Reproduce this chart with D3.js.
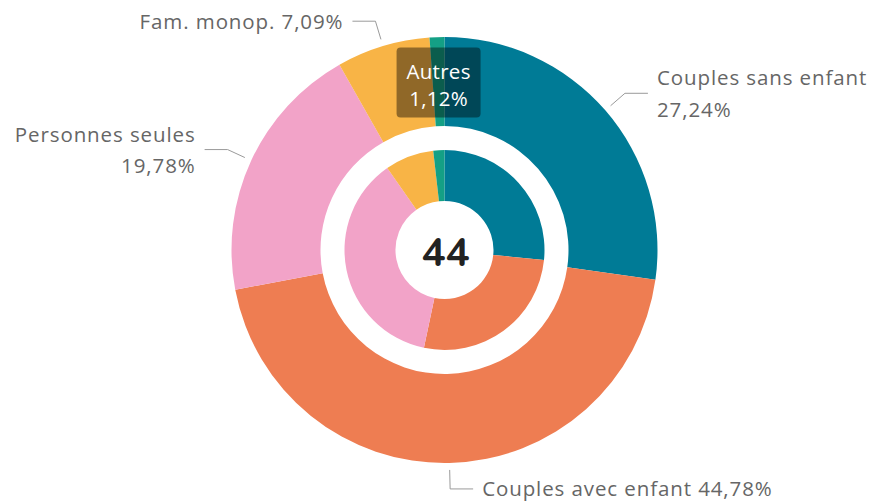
<!DOCTYPE html>
<html>
<head>
<meta charset="utf-8">
<script src="https://cdn.jsdelivr.net/npm/d3@7/dist/d3.min.js"></script>
<style>
  html, body { margin: 0; padding: 0; background: #fff; }
  svg { display: block; }
  text { font-family: "Open Sans", "Lato", sans-serif; }
  text.center { font-family: "Nunito", "Lato", sans-serif; }
</style>
</head>
<body>
<svg id="chart" width="874" height="503"></svg>
<script>
// Data
const categories = ["Couples sans enfant", "Couples avec enfant", "Personnes seules", "Fam. monop.", "Autres"];
const outerValues = [27.24, 44.78, 19.78, 7.09, 1.12];   // outer ring
const innerValues = [26.6, 26.7, 37.0, 7.9, 1.8];        // inner ring (département 44, estimated)
const outerLabels = ["27,24%", "44,78%", "19,78%", "7,09%", "1,12%"];
const centerLabel = "44";
const colors = ["#007b96", "#ee7d52", "#f2a3c8", "#f8b446", "#14a085"];

const svg = d3.select("#chart");
const cx = 444.5, cy = 250;
const R = 213, Rin = 124, r2 = 100, r2in = 49;

const g = svg.append("g").attr("transform", `translate(${cx},${cy})`);
const pie = d3.pie().sort(null).value(d => d);
const outerArcs = pie(outerValues);
const innerArcs = pie(innerValues);

const arcOuter = d3.arc().innerRadius(Rin).outerRadius(R);
const arcInner = d3.arc().innerRadius(r2in).outerRadius(r2);

g.selectAll("path.outer").data(outerArcs).enter().append("path")
  .attr("class", "outer").attr("d", arcOuter).attr("fill", (d, i) => colors[i]);
g.selectAll("path.inner").data(innerArcs).enter().append("path")
  .attr("class", "inner").attr("d", arcInner).attr("fill", (d, i) => colors[i]);

// center label
g.append("text").attr("class", "center").attr("x", 1).attr("y", 16).attr("text-anchor", "middle")
  .attr("font-size", 40).attr("font-weight", 700).attr("fill", "#222").text(centerLabel);

// external labels with connectors
const labelCfg = [
  { i: 0, lines: ["Couples sans enfant", "27,24%"] },
  { i: 1, lines: ["Couples avec enfant 44,78%"] },
  { i: 2, lines: ["Personnes seules", "19,78%"] },
  { i: 3, lines: ["Fam. monop. 7,09%"] }
];
const fs = 20.5;
const ls = "0.9px";
labelCfg.forEach(cfg => {
  const a = outerArcs[cfg.i];
  const mid = (a.startAngle + a.endAngle) / 2;
  const s = Math.sin(mid), c = -Math.cos(mid);
  const p0 = [s * (R + 7), c * (R + 7)];
  const p1 = [s * (R + 26), c * (R + 26)];
  const right = s >= 0;
  const p2 = [p1[0] + (right ? 23 : -23), p1[1]];
  g.append("path")
    .attr("d", `M${p0[0]},${p0[1]}L${p1[0]},${p1[1]}L${p2[0]},${p2[1]}`)
    .attr("fill", "none").attr("stroke", "#9a9a9a").attr("stroke-width", 1);
  const tx = p2[0] + (right ? 9 : -9);
  const t = g.append("text")
    .attr("text-anchor", right ? "start" : "end")
    .attr("font-size", fs).attr("fill", "#666").style("letter-spacing", ls);
  if (cfg.lines.length === 2) {
    t.append("tspan").attr("x", tx).attr("y", p1[1] - 8).text(cfg.lines[0]);
    t.append("tspan").attr("x", tx).attr("y", p1[1] + 23.5).text(cfg.lines[1]);
  } else {
    t.append("tspan").attr("x", tx).attr("y", p1[1] + 7.5).text(cfg.lines[0]);
  }
});

// "Autres" inside label with dark box
{
  const a = outerArcs[4];
  const [x, y] = arcOuter.centroid(a);
  g.append("rect").attr("x", x - 42).attr("y", y - 34).attr("width", 84).attr("height", 70)
    .attr("rx", 4).attr("fill", "rgba(0,0,0,0.42)");
  const t = g.append("text").attr("text-anchor", "middle").attr("font-size", fs).attr("fill", "#fff")
    .style("letter-spacing", "0.3px");
  t.append("tspan").attr("x", x).attr("y", y - 3).text(categories[4]);
  t.append("tspan").attr("x", x).attr("y", y + 24).text(outerLabels[4]);
}
</script>
</body>
</html>
